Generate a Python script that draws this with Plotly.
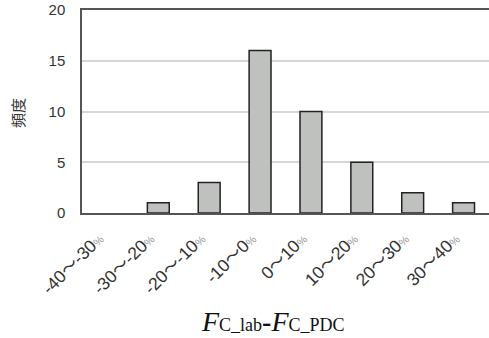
import plotly.graph_objects as go

categories = ["-40～-30", "-30～-20", "-20～-10", "-10～0", "0～10", "10～20", "20～30", "30～40"]
counts = [0, 1, 3, 16, 10, 5, 2, 1]
y_ticks = [0, 5, 10, 15, 20]

def fmt(c):
    a, b = c.split("～")
    return (f"{a}<span style='font-family:Noto Sans CJK JP'>～</span>{b}"
            f"<span style='font-size:11px;color:#999'>%</span>")

tick_text = [fmt(c) for c in categories]

fig = go.Figure(go.Bar(
    x=categories, y=counts, width=0.43,
    marker=dict(color="#bfc1bf",
                line=dict(color="#222222", width=[0 if v == 0 else 1.5 for v in counts])),
))

fig.update_layout(
    width=489, height=338,
    margin=dict(l=82, r=0, t=10, b=125),
    paper_bgcolor="white", plot_bgcolor="white",
    showlegend=False,
    font=dict(family="Liberation Sans, Arial", color="#333333"),
    xaxis=dict(
        range=[-0.5, 7.5], tickmode="array", tickvals=categories, ticktext=tick_text,
        tickangle=-45, tickfont=dict(size=17.5, color="#333333"),
        showline=True, linecolor="#555555", linewidth=1.5, mirror=True,
        ticks="", showgrid=False, automargin=False,
        ticklabelstandoff=7, ticklabelshift=-9,
    ),
    yaxis=dict(
        range=[0, 20], tickvals=y_ticks, tickfont=dict(size=15, color="#333333"),
        showline=True, linecolor="#555555", linewidth=1.5,
        showgrid=True, gridcolor="#d6d6d6", gridwidth=1.5,
        zeroline=False, ticks="", ticklabelstandoff=12, automargin=False,
    ),
    annotations=[
        dict(text="頻度", textangle=-90, xref="paper", yref="paper",
             x=(18 - 82) / 407, y=(213 - 113) / 203, showarrow=False,
             xanchor="center", yanchor="middle",
             font=dict(family="Noto Sans CJK JP", size=15, color="#333333")),
        dict(text="<i>F</i><span style='font-size:18px'>C_lab</span><b>-</b><i>F</i><span style='font-size:18px'>C_PDC</span>",
             xref="paper", yref="paper", x=(273 - 82) / 407, y=(213 - 321) / 203,
             showarrow=False, xanchor="center", yanchor="middle",
             font=dict(family="Liberation Serif, Times New Roman", size=28, color="#111111")),
    ],
)

fig.write_html("out.html", config={"displayModeBar": False},
               post_script="document.body.style.margin='0';document.body.style.overflow='hidden';")
